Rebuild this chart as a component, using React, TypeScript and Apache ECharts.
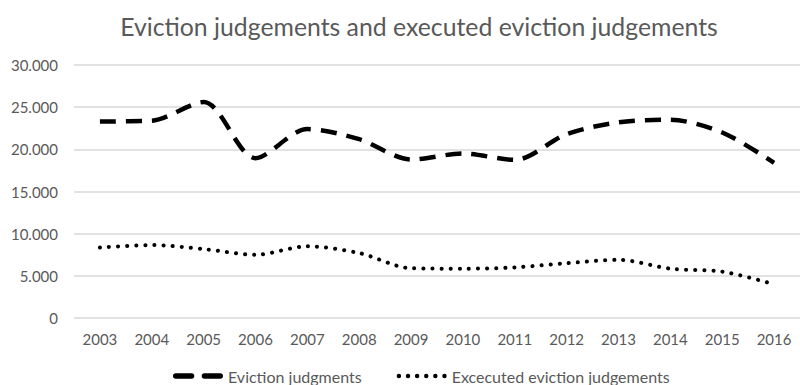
import React, { useEffect, useRef } from "react";
import * as echarts from "echarts";

const years = ["2003","2004","2005","2006","2007","2008","2009","2010","2011","2012","2013","2014","2015","2016"];
const evictionJudgments = [23300, 23400, 25600, 18950, 22400, 21200, 18800, 19500, 18750, 21800, 23200, 23500, 22000, 18400];
const executedEvictions = [8350, 8650, 8170, 7500, 8500, 7700, 5900, 5850, 6000, 6500, 6900, 5850, 5500, 4000];
const seriesNames = ["Eviction judgments", "Excecuted eviction judgements"];
const titleText = "Eviction judgements and executed eviction judgements";

const FONT = "Lato, 'Open Sans', sans-serif";
const GREY = "#595959";

const dashIcon = "path://M1,0H18A1,1 0 0 1 18,6H1A1,1 0 0 1 1,0Z M32,0H49A1,1 0 0 1 49,6H32A1,1 0 0 1 32,0Z";
const dotIcon = (() => {
  let d = "path://";
  for (let i = 0; i < 6; i++) {
    const cx = 2.5 + i * 9;
    d += `M${cx - 2.2},2.5A2.2,2.2 0 1 0 ${cx + 2.2},2.5A2.2,2.2 0 1 0 ${cx - 2.2},2.5Z `;
  }
  return d;
})();

export default function App() {
  const ref = useRef<HTMLDivElement>(null);
  useEffect(() => {
    if (!ref.current) return;
    const chart = echarts.init(ref.current, null, { renderer: "svg" });
    chart.setOption({
      animation: false,
      backgroundColor: "#ffffff",
      title: {
        text: titleText,
        left: 414,
        textAlign: "center",
        top: 9,
        textStyle: { fontFamily: FONT, fontSize: 24.8, fontWeight: "normal", color: GREY },
      },
      grid: { left: 74, right: -8, top: 65, bottom: 67 },
      xAxis: {
        type: "category",
        data: years,
        boundaryGap: true,
        axisLine: { show: false },
        axisTick: { show: false },
        axisLabel: { color: GREY, fontFamily: FONT, fontSize: 15, margin: 13 },
      },
      yAxis: {
        type: "value",
        min: 0,
        max: 30000,
        interval: 5000,
        axisLine: { show: false },
        axisTick: { show: false },
        splitLine: { lineStyle: { color: "#d9d9d9", width: 1.5 } },
        axisLabel: {
          color: GREY,
          fontFamily: FONT,
          fontSize: 15,
          margin: 16,
          formatter: (v: number) => (v === 0 ? "0" : (v / 1000).toFixed(3)),
        },
      },
      legend: {
        top: 363,
        left: 168,
        itemWidth: 50,
        itemHeight: 6,
        itemGap: 35,
        textStyle: { color: GREY, fontFamily: FONT, fontSize: 16 },
        data: [
          { name: seriesNames[0], icon: dashIcon, itemStyle: { color: "#000000" } },
          { name: seriesNames[1], icon: dotIcon, itemStyle: { color: "#000000" } },
        ],
      },
      series: [
        {
          name: seriesNames[0],
          type: "line",
          data: evictionJudgments,
          smooth: 0.3,
          showSymbol: false,
          symbol: "none",
          lineStyle: { color: "#000000", width: 4.5, type: [16, 10], cap: "butt" },
          itemStyle: { color: "#000000" },
        },
        {
          name: seriesNames[1],
          type: "line",
          data: executedEvictions,
          smooth: 0.3,
          showSymbol: false,
          symbol: "none",
          lineStyle: { color: "#000000", width: 4, type: [0.1, 9], cap: "round" },
          itemStyle: { color: "#000000" },
        },
      ],
    });
    return () => chart.dispose();
  }, []);
  return <div ref={ref} style={{ width: 800, height: 385, position: "absolute", left: 0, top: 0 }} />;
}
